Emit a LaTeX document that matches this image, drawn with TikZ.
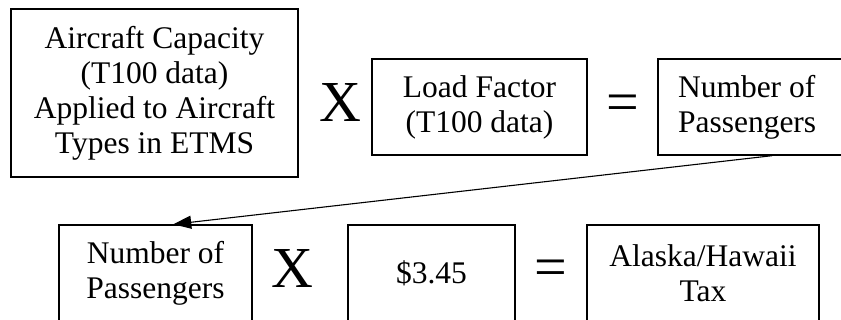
\documentclass[tikz,border=0pt]{standalone}
\usepackage{fontspec}
\setmainfont{Liberation Serif}
\usetikzlibrary{arrows.meta}

\begin{document}
\begin{tikzpicture}[x=1pt,y=-1pt,
  box/.style={draw,line width=1.4pt,align=center,inner sep=0pt,
    minimum height=96pt,font=\fontsize{31.5}{35}\selectfont},
  op/.style={inner sep=0pt,font=\fontsize{58}{60}\selectfont}]
% Frame
\clip (0,0) rectangle (841,320);

% Top row
\node[box,minimum width=287pt,minimum height=168pt] (cap) at (154.5,93)
  {Aircraft Capacity\\(T100 data)\\Applied to Aircraft\\Types in ETMS};
\node[op] (times1) at (340,103) {X};
\node[box,minimum width=215pt] (load) at (479.5,107) {Load Factor\\(T100 data)};
\node[op] (eq1) at (623,108) {=};
\node[box,minimum width=228pt,text width=188pt,align=flush left] (pax1) at (772,107)
  {Number of\\Passengers};

% Bottom row
\node[box,minimum width=193pt] (pax2) at (155.5,273) {Number of\\Passengers};
\node[op] (times2) at (292,269) {X};
\node[box,minimum width=167pt] (fee) at (431.5,273) {\$3.45};
\node[op] (eq2) at (550.5,273) {=};
\node[box,minimum width=232pt] (tax) at (703,273) {Alaska/Hawaii\\Tax};

% Carry over
\draw[line width=1.1pt,-{Triangle[length=18pt,width=13pt]}] (pax1.south) -- (pax2.70);
\end{tikzpicture}
\end{document}
